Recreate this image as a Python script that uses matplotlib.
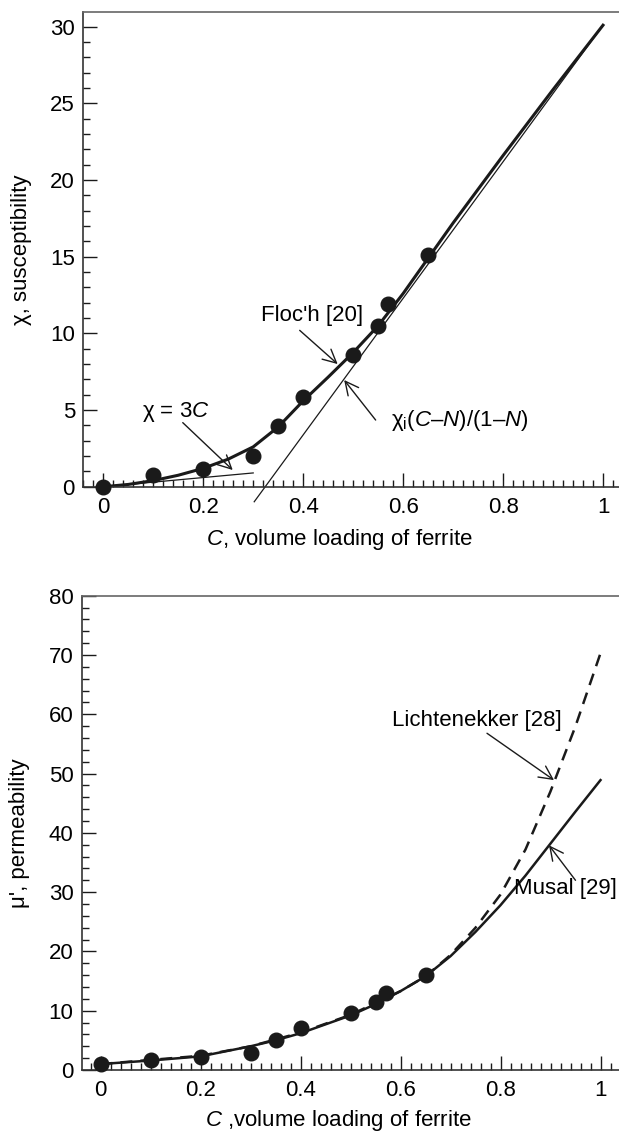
import matplotlib
matplotlib.use('Agg')
import matplotlib.pyplot as plt
from matplotlib.ticker import MultipleLocator, FuncFormatter

plt.rcParams['font.family'] = 'Liberation Sans'
plt.rcParams['font.size'] = 16
plt.rcParams['mathtext.fontset'] = 'custom'
plt.rcParams['mathtext.rm'] = 'Liberation Sans'
plt.rcParams['mathtext.it'] = 'Liberation Sans:italic'

# measured points (same loadings in both panels)
c_meas = [0, 0.1, 0.2, 0.3, 0.35, 0.4, 0.5, 0.55, 0.57, 0.65]
chi_meas = [0, 0.75, 1.15, 2.0, 3.95, 5.85, 8.6, 10.5, 11.9, 15.1]
mu_meas = [1.0, 1.7, 2.15, 2.9, 5.0, 7.05, 9.65, 11.5, 13.0, 16.1]

# Floc'h curve
floch_c = [0, 0.05, 0.1, 0.15, 0.2, 0.25, 0.3, 0.35, 0.4, 0.45, 0.5, 0.55, 0.6, 0.65, 0.7, 0.8, 0.9, 1.0]
floch_chi = [0, 0.15, 0.4, 0.75, 1.2, 1.8, 2.6, 3.9, 5.6, 7.15, 8.75, 10.5, 12.6, 14.9, 17.2, 21.6, 25.9, 30.1]

# thin reference lines
low_c = [0, 0.3]
low_chi = [0, 0.9]
high_c = [0.302, 1.0]
high_chi = [-0.98, 30.1]

# bottom panel curves
licht_c = [0, 0.1, 0.2, 0.3, 0.4, 0.5, 0.6, 0.65, 0.7, 0.75, 0.8, 0.85, 0.9, 0.95, 1.0]
licht_mu = [1.0, 1.7, 2.4, 4.0, 6.3, 9.3, 13.3, 15.8, 19.4, 24.0, 29.6, 37.2, 47.0, 58.0, 70.3]
musal_c = [0, 0.1, 0.2, 0.3, 0.35, 0.4, 0.5, 0.55, 0.6, 0.65, 0.7, 0.75, 0.8, 0.85, 0.9, 0.95, 1.0]
musal_mu = [1.0, 1.6, 2.3, 4.0, 5.0, 6.2, 9.2, 11.1, 13.3, 15.8, 19.2, 23.3, 27.8, 32.8, 38.2, 43.6, 48.9]

ink = '#1a1a1a'
arrow = dict(arrowstyle='->', lw=1.0, color=ink, shrinkA=0, shrinkB=0,
             mutation_scale=24)


def style_axes(ax, ymajor, yminor):
    ax.spines['right'].set_visible(False)
    for s in ['left', 'bottom', 'top']:
        ax.spines[s].set_linewidth(1.2)
        ax.spines[s].set_color('#333333')
    ax.spines['top'].set_color('#666666')
    ax.xaxis.set_major_locator(MultipleLocator(0.2))
    ax.xaxis.set_minor_locator(MultipleLocator(0.02))
    ax.yaxis.set_major_locator(MultipleLocator(ymajor))
    ax.yaxis.set_minor_locator(MultipleLocator(yminor))
    ax.xaxis.set_major_formatter(FuncFormatter(lambda v, p: '%g' % round(v, 2)))
    ax.tick_params(which='both', direction='in', top=False, right=False, color=ink)
    ax.tick_params(which='major', length=10, width=1.0, labelsize=16)
    ax.tick_params(which='minor', length=5, width=1.0)
    ax.tick_params(axis='y', pad=6)
    ax.tick_params(axis='x', pad=7.5)


fig = plt.figure(figsize=(6.19, 11.33), dpi=100)

# top panel: susceptibility
ax1 = fig.add_axes([0.1346, 0.5704, 0.8654, 0.4190])
ax1.plot(floch_c, floch_chi, color=ink, lw=2.2)
ax1.plot(low_c, low_chi, color=ink, lw=0.9)
ax1.plot(high_c, high_chi, color=ink, lw=0.9, clip_on=False)
ax1.plot(c_meas, chi_meas, 'o', color=ink, ms=10.5, clip_on=False, zorder=5)
ax1.set_xlim(-0.04, 1.032)
ax1.set_ylim(0, 30.96)
style_axes(ax1, 5, 1)
ax1.set_xlabel('$\\mathit{C}$, volume loading of ferrite', fontsize=16)
ax1.set_ylabel('χ, susceptibility', fontsize=16)
ax1.xaxis.set_label_coords(0.478, -0.112)
ax1.xaxis.label.set_va('center')
ax1.yaxis.set_label_coords(-0.115, 0.5)
ax1.yaxis.label.set_va('center')

ax1.text(0.418, 11.15, "Floc'h [20]", ha='center', va='center', fontsize=16)
ax1.annotate('', xy=(0.469, 8.0), xytext=(0.393, 10.2), arrowprops=arrow)
ax1.text(0.145, 4.85, 'χ = 3$\\mathit{C}$', ha='center', va='center', fontsize=16)
ax1.annotate('', xy=(0.259, 1.09), xytext=(0.159, 4.18), arrowprops=arrow)
ax1.text(0.575, 4.35, '$\\mathregular{χ_i(}\\mathit{C}\\mathregular{–}\\mathit{N}'
         '\\mathregular{)/(1–}\\mathit{N}\\mathregular{)}$',
         ha='left', va='center', fontsize=16)
ax1.annotate('', xy=(0.482, 6.96), xytext=(0.545, 4.35), arrowprops=arrow)

# bottom panel: permeability
ax2 = fig.add_axes([0.1320, 0.0556, 0.8680, 0.4186])
ax2.plot(licht_c, licht_mu, color=ink, lw=1.8, ls=(0, (4.8, 3.2)))
ax2.plot(musal_c, musal_mu, color=ink, lw=1.8)
ax2.plot(c_meas, mu_meas, 'o', color=ink, ms=10.5, clip_on=False, zorder=5)
ax2.set_xlim(-0.0376, 1.037)
ax2.set_ylim(0, 80)
style_axes(ax2, 10, 2)
ax2.set_xlabel('$\\mathit{C}$ ,volume loading of ferrite', fontsize=16)
ax2.set_ylabel("μ', permeability", fontsize=16)
ax2.xaxis.set_label_coords(0.478, -0.1075)
ax2.xaxis.label.set_va('center')
ax2.yaxis.set_label_coords(-0.115, 0.5)
ax2.yaxis.label.set_va('center')

ax2.text(0.583, 59.0, 'Lichtenekker [28]', ha='left', va='center', fontsize=16)
ax2.annotate('', xy=(0.907, 48.9), xytext=(0.773, 56.8), arrowprops=arrow)
ax2.text(0.826, 30.6, 'Musal [29]', ha='left', va='center', fontsize=16)
ax2.annotate('', xy=(0.897, 37.9), xytext=(0.95, 32.0), arrowprops=arrow)

plt.savefig('out.png', dpi=100)
